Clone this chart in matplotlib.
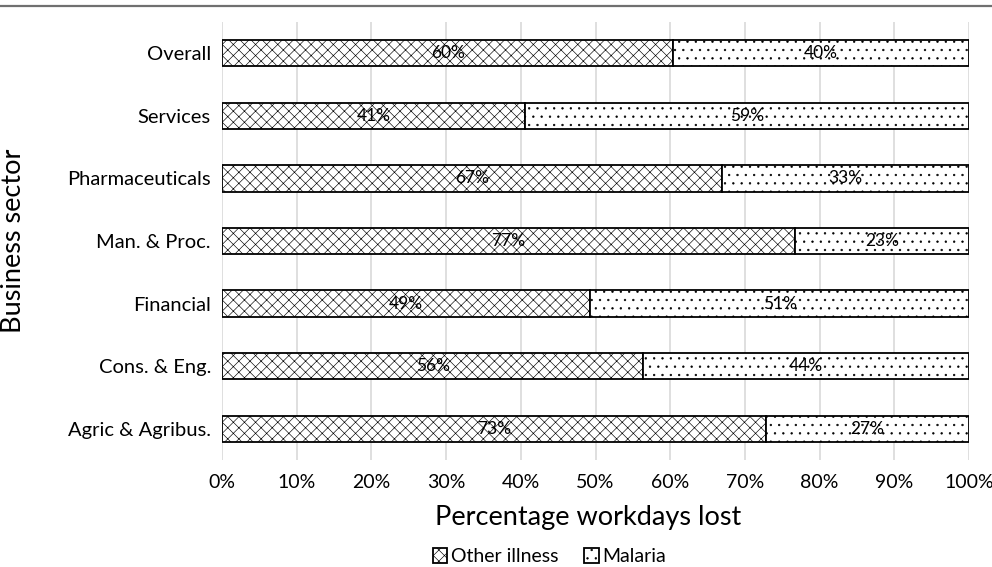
import matplotlib.pyplot as plt
from matplotlib.lines import Line2D

plt.rcParams['font.family'] = ['Lato', 'DejaVu Sans']
plt.rcParams['hatch.linewidth'] = 0.45

# share of workdays lost per sector (other illness + malaria = 1)
sectors = ['Overall', 'Services', 'Pharmaceuticals', 'Man. & Proc.',
           'Financial', 'Cons. & Eng.', 'Agric & Agribus.']
other_illness = [0.604, 0.406, 0.669, 0.767, 0.493, 0.564, 0.728]
malaria = [0.396, 0.594, 0.331, 0.233, 0.507, 0.436, 0.272]
xticks = [i / 10 for i in range(11)]

fig = plt.figure(figsize=(9.92, 5.67), dpi=100)
ax = fig.add_axes([222 / 992, 1 - 460 / 567, 747 / 992, 438 / 567])

ypos = list(range(len(sectors)))[::-1]
h = 0.42

b1 = ax.barh(ypos, other_illness, height=h, color='white', edgecolor='black',
             hatch='xxx', linewidth=1.3, label='Other illness')
b2 = ax.barh(ypos, malaria, left=other_illness, height=h, color='white',
             edgecolor='black', hatch='..', linewidth=1.3, label='Malaria')

for y, a, m in zip(ypos, other_illness, malaria):
    ax.text(a / 2, y, f'{a:.0%}', ha='center', va='center', fontsize=12.5)
    ax.text(a + m / 2, y, f'{m:.0%}', ha='center', va='center', fontsize=12.5)

ax.set_xlim(0, 1)
ax.set_ylim(-0.5, len(sectors) - 0.5)
ax.set_xticks(xticks)
ax.set_xticklabels([f'{t:.0%}' for t in xticks], fontsize=14)
ax.set_yticks(ypos)
ax.set_yticklabels(sectors, fontsize=14.5)
ax.tick_params(length=0, pad=8)
ax.tick_params(axis='x', pad=10)
ax.grid(axis='x', color='#d9d9d9', linewidth=1.2)
ax.set_axisbelow(True)
for s in ax.spines.values():
    s.set_visible(False)

ax.set_xlabel('Percentage workdays lost', fontsize=19.5)
ax.set_ylabel('Business sector', fontsize=19.5)
ax.xaxis.set_label_coords(0.49, -0.102)
ax.yaxis.set_label_coords(-0.263, 0.5)

fig.legend(handles=[b1, b2], loc='center', bbox_to_anchor=(0.554, 0.018),
           ncol=2, frameon=False, fontsize=14, handlelength=0.75,
           handleheight=0.75, handletextpad=0.2, columnspacing=1.3)

# thin rule across the top of the figure
fig.add_artist(Line2D([0, 1], [1 - 5.5 / 567] * 2, color='#707070', linewidth=1.6))

fig.savefig('out.png', dpi=100)
